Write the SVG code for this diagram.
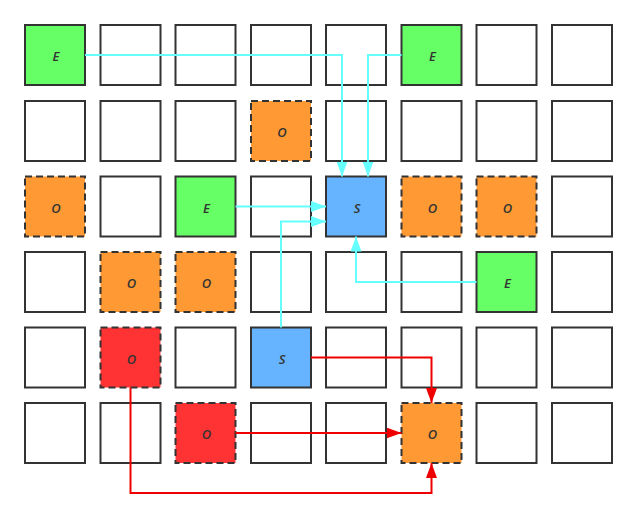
<svg xmlns="http://www.w3.org/2000/svg" width="637" height="518" viewBox="0 0 637 518">
<style>
.c{fill:#fff;stroke:#333;stroke-width:2}
.e{fill:#66ff66}
.s{fill:#66b3ff}
.o{fill:#ff9933;stroke-dasharray:7 4}
.r{fill:#ff3333;stroke-dasharray:7 4}
text{font-family:"Open Sans","DejaVu Sans",sans-serif;font-style:italic;font-weight:600;font-size:13px;fill:#333;text-anchor:middle;dominant-baseline:central}
.cy{fill:none;stroke:#66ffff;stroke-width:2}
.rd{fill:none;stroke:#ee0000;stroke-width:2}
</style>
<defs>
<marker id="ac" markerUnits="userSpaceOnUse" markerWidth="16" markerHeight="12" refX="15" refY="5.5" orient="auto"><path d="M0,0L15,5.5L0,11z" fill="#66ffff"/></marker>
<marker id="ar" markerUnits="userSpaceOnUse" markerWidth="16" markerHeight="12" refX="15" refY="5.5" orient="auto"><path d="M0,0L15,5.5L0,11z" fill="#ee0000"/></marker>
</defs>
<g id="grid">
<g id="r0c0"><rect class="c e" x="25" y="25" width="60" height="60"/><text x="56" y="56">E</text></g>
<g id="r0c1"><rect class="c" x="100.5" y="25" width="60" height="60"/></g>
<g id="r0c2"><rect class="c" x="175.5" y="25" width="60" height="60"/></g>
<g id="r0c3"><rect class="c" x="251" y="25" width="60" height="60"/></g>
<g id="r0c4"><rect class="c" x="326" y="25" width="60" height="60"/></g>
<g id="r0c5"><rect class="c e" x="401.5" y="25" width="60" height="60"/><text x="432.5" y="56">E</text></g>
<g id="r0c6"><rect class="c" x="476.5" y="25" width="60" height="60"/></g>
<g id="r0c7"><rect class="c" x="552" y="25" width="60" height="60"/></g>

<g id="r1c0"><rect class="c" x="25" y="101" width="60" height="60"/></g>
<g id="r1c1"><rect class="c" x="100.5" y="101" width="60" height="60"/></g>
<g id="r1c2"><rect class="c" x="175.5" y="101" width="60" height="60"/></g>
<g id="r1c3"><rect class="c o" x="251" y="101" width="60" height="60"/><text x="282" y="132">O</text></g>
<g id="r1c4"><rect class="c" x="326" y="101" width="60" height="60"/></g>
<g id="r1c5"><rect class="c" x="401.5" y="101" width="60" height="60"/></g>
<g id="r1c6"><rect class="c" x="476.5" y="101" width="60" height="60"/></g>
<g id="r1c7"><rect class="c" x="552" y="101" width="60" height="60"/></g>

<g id="r2c0"><rect class="c o" x="25" y="176.5" width="60" height="60"/><text x="56" y="207.5">O</text></g>
<g id="r2c1"><rect class="c" x="100.5" y="176.5" width="60" height="60"/></g>
<g id="r2c2"><rect class="c e" x="175.5" y="176.5" width="60" height="60"/><text x="206.5" y="207.5">E</text></g>
<g id="r2c3"><rect class="c" x="251" y="176.5" width="60" height="60"/></g>
<g id="r2c4"><rect class="c s" x="326" y="176.5" width="60" height="60"/><text x="357" y="207.5">S</text></g>
<g id="r2c5"><rect class="c o" x="401.5" y="176.5" width="60" height="60"/><text x="432.5" y="207.5">O</text></g>
<g id="r2c6"><rect class="c o" x="476.5" y="176.5" width="60" height="60"/><text x="507.5" y="207.5">O</text></g>
<g id="r2c7"><rect class="c" x="552" y="176.5" width="60" height="60"/></g>

<g id="r3c0"><rect class="c" x="25" y="252" width="60" height="60"/></g>
<g id="r3c1"><rect class="c o" x="100.5" y="252" width="60" height="60"/><text x="131.5" y="283">O</text></g>
<g id="r3c2"><rect class="c o" x="175.5" y="252" width="60" height="60"/><text x="206.5" y="283">O</text></g>
<g id="r3c3"><rect class="c" x="251" y="252" width="60" height="60"/></g>
<g id="r3c4"><rect class="c" x="326" y="252" width="60" height="60"/></g>
<g id="r3c5"><rect class="c" x="401.5" y="252" width="60" height="60"/></g>
<g id="r3c6"><rect class="c e" x="476.5" y="252" width="60" height="60"/><text x="507.5" y="283">E</text></g>
<g id="r3c7"><rect class="c" x="552" y="252" width="60" height="60"/></g>

<g id="r4c0"><rect class="c" x="25" y="327.5" width="60" height="60"/></g>
<g id="r4c1"><rect class="c r" x="100.5" y="327.5" width="60" height="60"/><text x="131.5" y="358.5">O</text></g>
<g id="r4c2"><rect class="c" x="175.5" y="327.5" width="60" height="60"/></g>
<g id="r4c3"><rect class="c s" x="251" y="327.5" width="60" height="60"/><text x="282" y="358.5">S</text></g>
<g id="r4c4"><rect class="c" x="326" y="327.5" width="60" height="60"/></g>
<g id="r4c5"><rect class="c" x="401.5" y="327.5" width="60" height="60"/></g>
<g id="r4c6"><rect class="c" x="476.5" y="327.5" width="60" height="60"/></g>
<g id="r4c7"><rect class="c" x="552" y="327.5" width="60" height="60"/></g>

<g id="r5c0"><rect class="c" x="25" y="403" width="60" height="60"/></g>
<g id="r5c1"><rect class="c" x="100.5" y="403" width="60" height="60"/></g>
<g id="r5c2"><rect class="c r" x="175.5" y="403" width="60" height="60"/><text x="206.5" y="434">O</text></g>
<g id="r5c3"><rect class="c" x="251" y="403" width="60" height="60"/></g>
<g id="r5c4"><rect class="c" x="326" y="403" width="60" height="60"/></g>
<g id="r5c5"><rect class="c o" x="401.5" y="403" width="60" height="60"/><text x="432.5" y="434">O</text></g>
<g id="r5c6"><rect class="c" x="476.5" y="403" width="60" height="60"/></g>
<g id="r5c7"><rect class="c" x="552" y="403" width="60" height="60"/></g>
</g>
<g id="connectors">
<path class="cy" d="M85,55H342V176.5" marker-end="url(#ac)"/>
<path class="cy" d="M401.5,55H368V176.5" marker-end="url(#ac)"/>
<path class="cy" d="M235.5,206.5H326" marker-end="url(#ac)"/>
<path class="cy" d="M281,327.5V221.5H326" marker-end="url(#ac)"/>
<path class="cy" d="M476.5,282H356V236.5" marker-end="url(#ac)"/>
<path class="rd" d="M311,357.5H431.5V403" marker-end="url(#ar)"/>
<path class="rd" d="M235.5,433H401.5" marker-end="url(#ar)"/>
<path class="rd" d="M130.5,387.5V493H431.5V463" marker-end="url(#ar)"/>
</g>
</svg>
